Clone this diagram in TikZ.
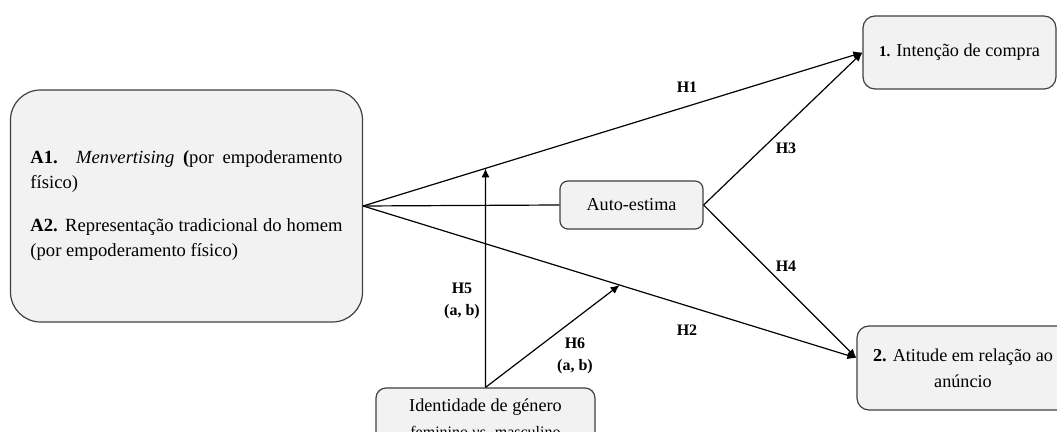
\documentclass[tikz,border=0pt]{standalone}
\usepackage{fontspec}
\setmainfont{Liberation Serif}
\usepackage{xcolor}
\usetikzlibrary{arrows.meta, calc}

\definecolor{boxfill}{HTML}{F2F2F2}
\definecolor{boxline}{HTML}{404040}

\begin{document}
\begin{tikzpicture}[
    x=0.5pt, y=-0.5pt,
    >={Latex[length=4.5pt, width=4pt]},
    every node/.style={font=\fontsize{9.1}{13}\selectfont},
    box/.style={draw=boxline, fill=boxfill, line width=0.6pt, rounded corners=5pt, inner sep=0pt, align=center},
    hyp/.style={font=\bfseries\fontsize{8}{11}\selectfont, align=center},
    link/.style={line width=0.6pt}
  ]
  \useasboundingbox (0,0) rectangle (1057,432);

  % Antecedent
  \node[box, rounded corners=15pt, minimum width=176pt, minimum height=116pt,
        text width=156pt, align=justify, font=\fontsize{9.3}{12.5}\selectfont] (adv) at (186.5,206)
    {\textbf{A1.} \textit{Menvertising} \textbf{(}por empoderamento\linebreak físico)\\[9pt]
     \textbf{A2.} Representação tradicional do homem\linebreak (por empoderamento físico)};

  % Mediator and moderator
  \node[box, rounded corners=4pt, minimum width=71.5pt, minimum height=24pt] (auto) at (631.5,205) {Auto-estima};
  \node[box, rounded corners=5pt, minimum width=109.5pt, minimum height=30pt] (ident) at (485.5,418)
    {Identidade de género\\{\fontsize{8}{10}\selectfont feminino \textit{vs.} masculino}};

  % Outcomes
  \node[box, rounded corners=6pt, minimum width=96.5pt, minimum height=36.5pt] (intent) at (959.5,52.5)
    {{\bfseries\fontsize{7.5}{9}\selectfont 1.} Intenção de compra};
  \node[box, rounded corners=6pt, minimum width=106pt, minimum height=42pt] (attit) at (963,368)
    {{\bfseries 2.} Atitude em relação ao\\anúncio};
  \coordinate (attin) at ([yshift=5pt]attit.west);

  % Arrows
  \draw[link, ->] (adv.east) -- (intent.west);
  \draw[link, ->] (adv.east) -- (attin);
  \draw[link] (adv.east) -- (auto.west);
  \draw[link, ->] (auto.east) -- (intent.west);
  \draw[link, ->] (auto.east) -- (attin);
  \draw[link, ->] (ident.north) -- (intersection of adv.east--intent.west and ident.north--ident.south);
  \draw[link, ->] (ident.north) -- ($(adv.east)!0.52!(attin)$);

  % Hypotheses
  \node[hyp] (h1) at (687,87) {H1};
  \node[hyp] (h2) at (687,330) {H2};
  \node[hyp] (h3) at (786,148) {H3};
  \node[hyp] (h4) at (786,266) {H4};
  \node[hyp] (h5) at (462,301) {H5\\(a, b)};
  \node[hyp] (h6) at (575,356) {H6\\(a, b)};
\end{tikzpicture}
\end{document}
